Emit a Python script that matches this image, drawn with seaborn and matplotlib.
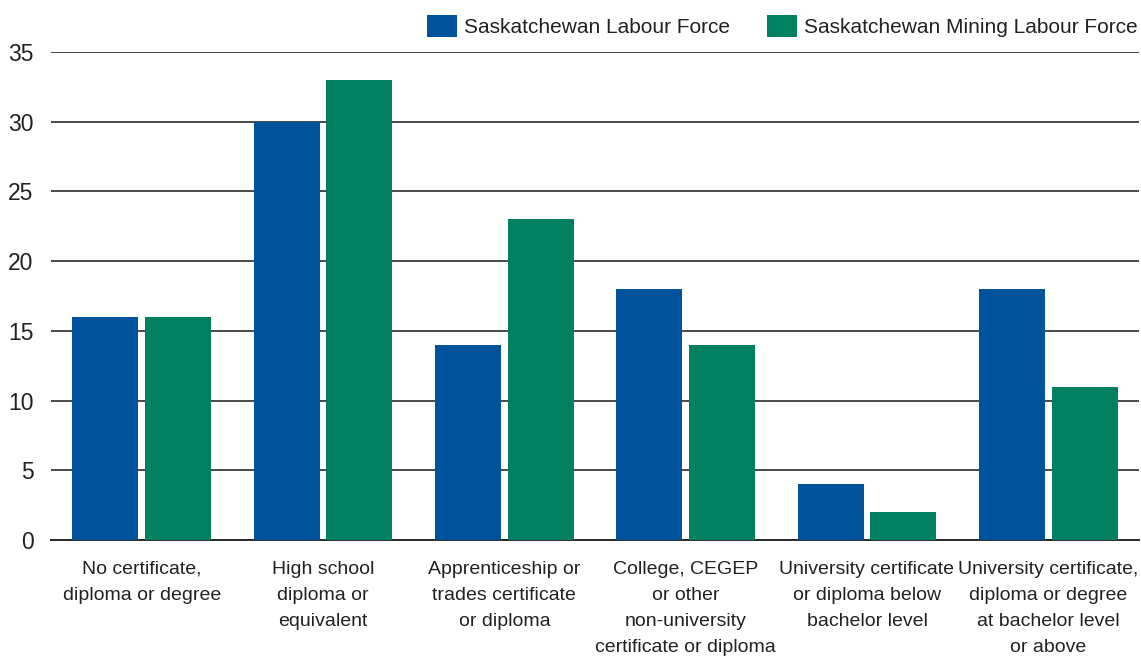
import matplotlib.pyplot as plt
import pandas as pd
import seaborn as sns
from matplotlib.ticker import FixedLocator

# chart values
categories = ['No certificate,\ndiploma or degree',
              'High school\ndiploma or\nequivalent',
              'Apprenticeship or\ntrades certificate\nor diploma',
              'College, CEGEP\nor other\nnon-university\ncertificate or diploma',
              'University certificate\nor diploma below\nbachelor level',
              'University certificate,\ndiploma or degree\nat bachelor level\nor above']
labour_force = [16, 30, 14, 18, 4, 18]
mining_force = [16, 33, 23, 14, 2, 11]
series = ['Saskatchewan Labour Force', 'Saskatchewan Mining Labour Force']
colors = ['#00529B', '#008060']

df = pd.DataFrame({
    'Category': categories * 2,
    'Value': labour_force + mining_force,
    'Series': [series[0]] * len(categories) + [series[1]] * len(categories),
})

sns.set_style('white')
plt.rcParams['font.family'] = ['Liberation Sans Narrow', 'Liberation Sans', 'DejaVu Sans']
plt.rcParams['text.color'] = '#222222'

fig = plt.figure(figsize=(11.41, 6.6), dpi=100)
ax = fig.add_axes([51 / 1141, 120 / 660, 1088 / 1141, 488 / 660])

sns.barplot(data=df, x='Category', y='Value', hue='Series', palette=colors,
            width=0.8, gap=0.09, ax=ax, saturation=1, zorder=3,
            edgecolor='none', linewidth=0)

ax.set_ylim(0, 35)
ax.set_xlim(-0.5, len(categories) - 0.5)
ax.set_yticks(range(0, 36, 5))
ax.yaxis.grid(True, color='#2a2a2a', linewidth=1.2, zorder=0)
ax.set_axisbelow(True)
ax.set_xlabel('')
ax.set_ylabel('')

for s in ['top', 'right', 'left']:
    ax.spines[s].set_visible(False)
ax.spines['bottom'].set_color('#2a2a2a')
ax.spines['bottom'].set_linewidth(1.4)

ax.tick_params(axis='y', length=0, labelsize=16.5, pad=12.5, labelcolor='#222222')
ax.tick_params(axis='x', which='major', length=0, labelsize=14, pad=15, labelcolor='#222222')
for lab in ax.get_xticklabels():
    lab.set_linespacing(1.7)
ax.xaxis.set_minor_locator(FixedLocator([i - 0.5 for i in range(len(categories) + 1)]))
ax.tick_params(axis='x', which='minor', direction='in', length=7.5, width=1.4, color='#2a2a2a')

ax.legend(loc='lower right', bbox_to_anchor=(0.9985, 1.03), ncol=2, frameon=False,
          fontsize=15, handlelength=1.44, handleheight=1.3, handletextpad=0.34,
          columnspacing=1.75, borderaxespad=0.0, borderpad=0.0)

fig.savefig('out.png', dpi=100)
